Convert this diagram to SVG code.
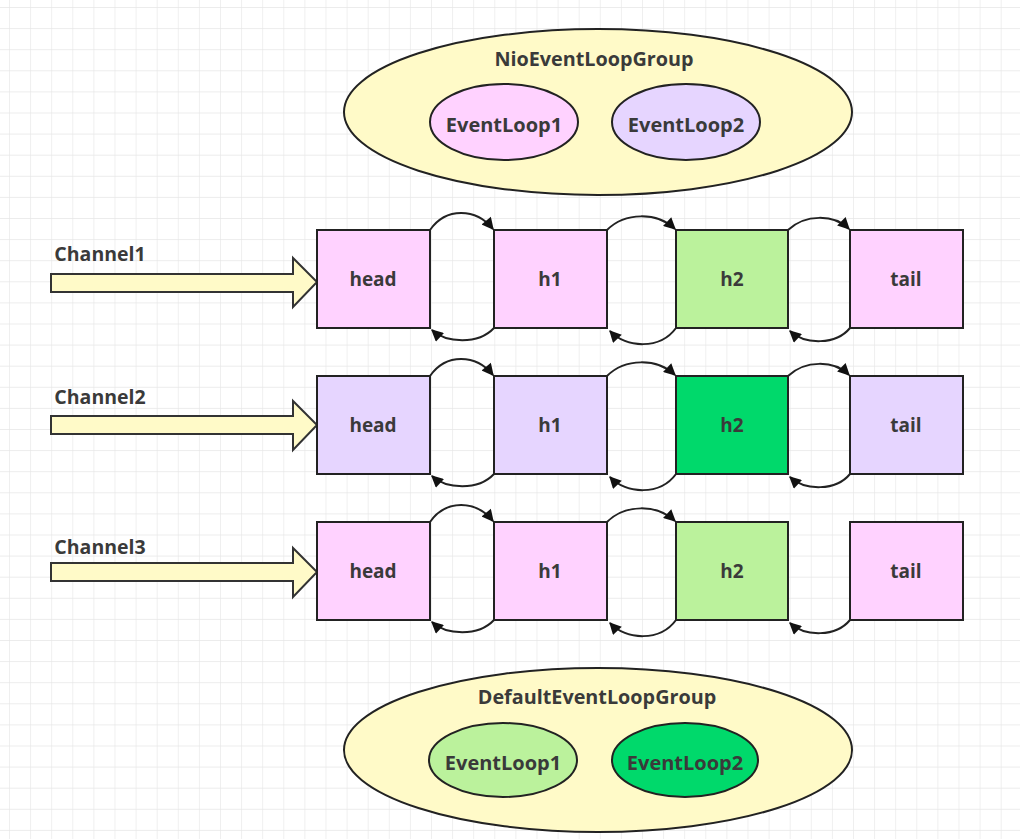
<svg xmlns="http://www.w3.org/2000/svg" width="1020" height="839" viewBox="0 0 1020 839">
<defs>
<pattern id="grid" x="9" y="7" width="21.1" height="21.1" patternUnits="userSpaceOnUse">
<path d="M0,0 H21.1 M0,0 V21.1" fill="none" stroke="#e6e6e6" stroke-width="1.2"/>
</pattern>
<marker id="ah" viewBox="0 0 10 10" refX="9" refY="5" markerWidth="14" markerHeight="12" markerUnits="userSpaceOnUse" orient="auto">
<path d="M0,0 L10,5 L0,10 Z" fill="#111"/>
</marker>
<style>
.t{font-family:"Open Sans","Noto Sans","Liberation Sans",sans-serif;font-weight:700;fill:#3a3a3a;text-anchor:middle;dominant-baseline:central}
.box{stroke:#222;stroke-width:2}
.pink{fill:#ffd2ff}
.lav{fill:#e6d5ff}
.lg{fill:#bbf29c}
.dg{fill:#00d96b}
.grp{fill:#fffac8;stroke:#222;stroke-width:2}
.arr{fill:#fffac8;stroke:#333;stroke-width:2}
.c{fill:none;stroke:#222;stroke-width:2;marker-end:url(#ah)}
</style>
</defs>
<rect width="1020" height="839" fill="#ffffff"/>
<rect width="1020" height="839" fill="url(#grid)"/>

<g id="nioGroup">
<ellipse class="grp" cx="598" cy="112" rx="254" ry="83"/>
<text class="t" x="594" y="58" font-size="19.8">NioEventLoopGroup</text>
</g>
<g id="nioLoop1">
<ellipse class="box pink" cx="504" cy="122" rx="74" ry="38"/>
<text class="t" x="504" y="124" font-size="20">EventLoop1</text>
</g>
<g id="nioLoop2">
<ellipse class="box lav" cx="686" cy="122" rx="74" ry="38"/>
<text class="t" x="686" y="124" font-size="20">EventLoop2</text>
</g>

<g id="channel1">
<path class="arr" d="M51,274 H293 V258 L317,282 L293,307 V292 H51 Z"/>
<text class="t" x="100" y="253" font-size="19.5">Channel1</text>
</g>
<g id="channel2">
<path class="arr" d="M51,416 H293 V401 L317,425 L293,450 V434 H51 Z"/>
<text class="t" x="100" y="396" font-size="19.5">Channel2</text>
</g>
<g id="channel3">
<path class="arr" d="M51,563 H293 V548 L317,572 L293,597 V581 H51 Z"/>
<text class="t" x="100" y="546" font-size="19.5">Channel3</text>
</g>

<g id="r1-head"><rect class="box pink" x="317" y="230" width="113" height="98"/><text class="t" x="373" y="279" font-size="19">head</text></g>
<g id="r1-h1"><rect class="box pink" x="494" y="230" width="113" height="98"/><text class="t" x="550" y="279" font-size="19">h1</text></g>
<g id="r1-h2"><rect class="box lg" x="676" y="230" width="112" height="98"/><text class="t" x="732" y="279" font-size="19">h2</text></g>
<g id="r1-tail"><rect class="box pink" x="850" y="230" width="113" height="98"/><text class="t" x="906" y="279" font-size="19">tail</text></g>

<g id="r2-head"><rect class="box lav" x="317" y="376" width="113" height="98"/><text class="t" x="373" y="425" font-size="19">head</text></g>
<g id="r2-h1"><rect class="box lav" x="494" y="376" width="113" height="98"/><text class="t" x="550" y="425" font-size="19">h1</text></g>
<g id="r2-h2"><rect class="box dg" x="676" y="376" width="112" height="98"/><text class="t" x="732" y="425" font-size="19">h2</text></g>
<g id="r2-tail"><rect class="box lav" x="850" y="376" width="113" height="98"/><text class="t" x="906" y="425" font-size="19">tail</text></g>

<g id="r3-head"><rect class="box pink" x="317" y="522" width="113" height="98"/><text class="t" x="373" y="571" font-size="19">head</text></g>
<g id="r3-h1"><rect class="box pink" x="494" y="522" width="113" height="98"/><text class="t" x="550" y="571" font-size="19">h1</text></g>
<g id="r3-h2"><rect class="box lg" x="676" y="522" width="112" height="98"/><text class="t" x="732" y="571" font-size="19">h2</text></g>
<g id="r3-tail"><rect class="box pink" x="850" y="522" width="113" height="98"/><text class="t" x="906" y="571" font-size="19">tail</text></g>

<g id="connectors">
<path class="c" d="M430,230 C446,207 476,208 493,229"/>
<path class="c" d="M607,230 C625,212 657,212 675,229"/>
<path class="c" d="M788,230 C805,214 834,214 849,229"/>
<path class="c" d="M494,328 C478,345 446,343 432,330"/>
<path class="c" d="M676,328 C660,350 626,348 610,331"/>
<path class="c" d="M850,328 C836,345 805,345 790,331"/>

<path class="c" d="M430,376 C446,353 476,354 493,375"/>
<path class="c" d="M607,376 C625,358 657,358 675,375"/>
<path class="c" d="M788,376 C805,360 834,360 849,375"/>
<path class="c" d="M494,474 C478,491 446,489 432,476"/>
<path class="c" d="M676,474 C660,496 626,494 610,477"/>
<path class="c" d="M850,474 C836,491 805,491 790,477"/>

<path class="c" d="M430,522 C446,499 476,500 493,521"/>
<path class="c" d="M607,522 C625,504 657,504 675,521"/>
<path class="c" d="M494,620 C478,637 446,635 432,622"/>
<path class="c" d="M676,620 C660,642 626,640 610,623"/>
<path class="c" d="M850,620 C836,637 805,637 790,623"/>
</g>

<g id="defaultGroup">
<ellipse class="grp" cx="598" cy="750" rx="254" ry="82"/>
<text class="t" x="597" y="696" font-size="19.8">DefaultEventLoopGroup</text>
</g>
<g id="defLoop1">
<ellipse class="box lg" cx="503" cy="760" rx="74" ry="37"/>
<text class="t" x="503" y="762" font-size="20">EventLoop1</text>
</g>
<g id="defLoop2">
<ellipse class="box dg" cx="685" cy="760" rx="73" ry="37"/>
<text class="t" x="685" y="762" font-size="20">EventLoop2</text>
</g>
</svg>
